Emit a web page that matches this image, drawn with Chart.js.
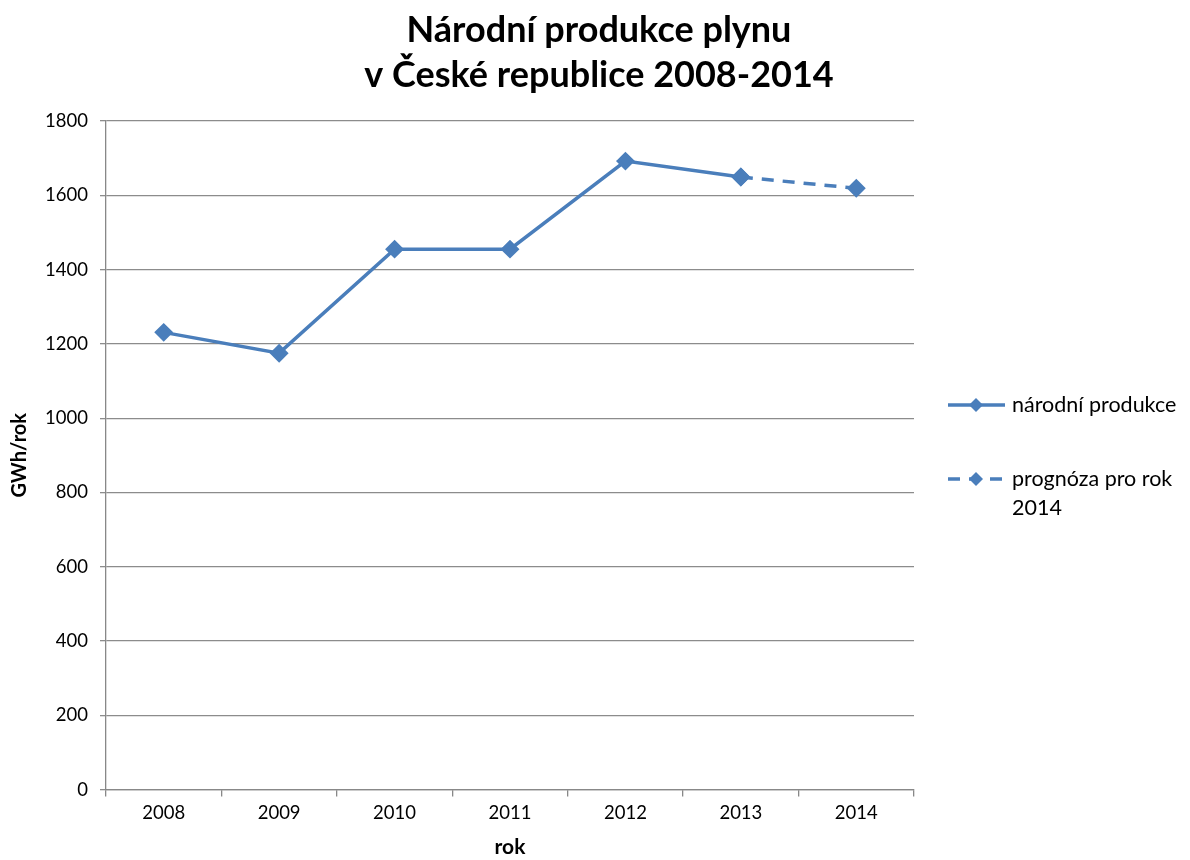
<!DOCTYPE html>
<html>
<head>
<meta charset="utf-8">
<script src="https://cdn.jsdelivr.net/npm/chart.js@4/dist/chart.umd.min.js"></script>
<style>
	body { margin: 0; background: #fff; }
	#wrap { width: 1190px; height: 860px; }
</style>
</head>
<body>
<div id="wrap"><canvas id="myChart" width="1190" height="860"></canvas></div>
<script>
// data
var years = ['2008', '2009', '2010', '2011', '2012', '2013', '2014'];
var production = [1231, 1175, 1455, 1455, 1692, 1649, null];
var forecast = [null, null, null, null, null, 1649, 1619];
var seriesNames = ['národní produkce', ['prognóza pro rok', '2014']];

var blue = '#4a7ebb';
var fontFam = 'Lato, "Open Sans", sans-serif';

// legend drawn by hand to the right of the plot
var sideLegend = {
	id: 'sideLegend',
	afterDraw: function (chart) {
		var c = chart.ctx;
		var rows = [{ y: 405, dash: [] }, { y: 479, dash: [12, 9] }];
		c.save();
		rows.forEach(function (r, i) {
			c.strokeStyle = blue;
			c.lineWidth = 3.5;
			c.setLineDash(r.dash);
			c.beginPath();
			c.moveTo(948, r.y);
			c.lineTo(1005, r.y);
			c.stroke();
			c.setLineDash([]);
			c.fillStyle = blue;
			c.beginPath();
			c.moveTo(976, r.y - 7);
			c.lineTo(983, r.y);
			c.lineTo(976, r.y + 7);
			c.lineTo(969, r.y);
			c.closePath();
			c.fill();
			c.fillStyle = '#000';
			c.font = '21.5px ' + fontFam;
			c.textBaseline = 'middle';
			var lines = [].concat(seriesNames[i]);
			lines.forEach(function (t, k) {
				c.fillText(t, 1012, r.y + k * 29);
			});
		});
		c.restore();
	}
};

var ctx = document.getElementById('myChart').getContext('2d');
var chart = new Chart(ctx, {
	type: 'line',
	data: {
		labels: years,
		datasets: [{
			label: 'národní produkce',
			data: production,
			borderColor: blue,
			backgroundColor: blue,
			borderWidth: 3.5,
			pointStyle: 'rectRot',
			pointRadius: 7,
			pointHoverRadius: 7
		},
		{
			label: 'prognóza pro rok 2014',
			data: forecast,
			borderColor: blue,
			backgroundColor: blue,
			borderWidth: 3.5,
			borderDash: [12, 9],
			pointStyle: 'rectRot',
			pointRadius: 7,
			pointHoverRadius: 7
		}]
	},
	options: {
		responsive: false,
		animation: false,
		layout: { padding: { left: 8, right: 0, top: 0, bottom: 0 } },
		plugins: {
			legend: { display: false },
			tooltip: { enabled: false },
			title: {
				display: true,
				text: ['Národní produkce plynu', 'v České republice 2008-2014'],
				color: '#000',
				font: { family: fontFam, size: 36, weight: 'bold', lineHeight: 1.25 },
				padding: { top: 8, bottom: 23 }
			}
		},
		scales: {
			x: {
				offset: true,
				grid: { offset: true, drawOnChartArea: false, drawTicks: true, tickLength: 7, color: '#888', lineWidth: 1.3 },
				border: { color: '#888', width: 1.3 },
				ticks: { color: '#000', font: { family: fontFam, size: 18.5 }, padding: 5, maxRotation: 0 },
				title: { display: true, text: 'rok', color: '#000', font: { family: fontFam, size: 21, weight: 'bold' }, padding: { top: 6, bottom: 0 } }
			},
			y: {
				min: 0,
				max: 1800,
				ticks: {
					stepSize: 200, color: '#000', font: { family: fontFam, size: 18.5 }, padding: 12,
					callback: function (v) { return String(v); }
				},
				grid: { color: '#8c8c8c', lineWidth: 1.3, tickLength: 6 },
				border: { color: '#888', width: 1.3 },
				title: { display: true, text: 'GWh/rok', color: '#000', font: { family: fontFam, size: 20, weight: 'bold' }, padding: { top: 0, bottom: 10 } },
				afterFit: function (scale) { scale.width = 98; }
			},
			// empty right-hand space that holds the legend
			side: {
				position: 'right',
				display: true,
				grid: { display: false },
				border: { display: false },
				ticks: { display: false },
				afterFit: function (scale) { scale.width = 276; }
			}
		}
	},
	plugins: [sideLegend]
});
</script>
</body>
</html>
